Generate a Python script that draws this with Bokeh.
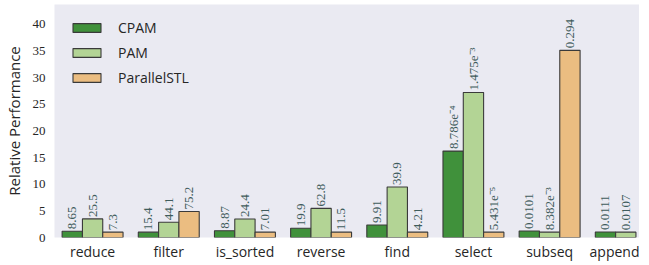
import math
from bokeh.plotting import figure
from bokeh.models import ColumnDataSource, Range1d, FixedTicker, Legend, LegendItem
from bokeh.transform import dodge
from bokeh.core.properties import value
from bokeh.embed import file_html
from bokeh.resources import INLINE

categories = ["reduce", "filter", "is_sorted", "reverse", "find", "select", "subseq", "append"]
series = ["CPAM", "PAM", "ParallelSTL"]
cpam = [1.18, 1.0, 1.27, 1.73, 2.35, 16.2, 1.21, 1.04]
pam = [3.49, 2.86, 3.48, 5.46, 9.48, 27.2, 1.0, 1.0]
pstl = [1.0, 4.88, 1.0, 1.0, 1.0, 1.0, 35.1, float("nan")]
cpam_labels = ["8.65", "15.4", "8.87", "19.9", "9.91", "8.786e\u207b\u2074", "0.0101", "0.0111"]
pam_labels = ["25.5", "44.1", "24.4", "62.8", "39.9", "1.475e\u207b\u00b3", "8.382e\u207b\u00b3", "0.0107"]
pstl_labels = ["7.3", "75.2", "7.01", "11.5", "4.21", "5.431e\u207b\u2075", "0.294", ""]
y_ticks = [0, 5, 10, 15, 20, 25, 30, 35, 40]

colors = ["#40913b", "#b3d495", "#ebbd81"]
bw = 0.8 / 3
offsets = [-bw, 0.0, bw]

xs = list(range(len(categories)))
src = ColumnDataSource(dict(
    x=xs, cpam=cpam, pam=pam, pstl=pstl,
    cpam_l=cpam_labels, pam_l=pam_labels, pstl_l=pstl_labels,
))

p = figure(frame_width=585, frame_height=233, output_backend="svg", toolbar_location=None,
           x_range=Range1d(-0.5, 7.18), y_range=Range1d(0, 43.7),
           min_border_left=48, min_border_right=0, min_border_top=4, min_border_bottom=0)
p.background_fill_color = "#EAEAF2"
p.border_fill_color = "white"
p.outline_line_color = None
p.grid.visible = False

renderers = []
for key, off, col in zip(["cpam", "pam", "pstl"], offsets, colors):
    r = p.vbar(x=dodge("x", off), top=key, width=bw, bottom=0, source=src,
               fill_color=col, line_color="#3a3a3a", line_width=1.1)
    renderers.append(r)
    p.text(x=dodge("x", off), y=key, text=key + "_l", source=src,
           angle=math.pi / 2, text_align="left", text_baseline="middle",
           y_offset=-2, text_font=value("Liberation Serif"), text_font_size="13px",
           text_color="#3f5c5c")

legend = Legend(items=[LegendItem(label=s, renderers=[r]) for s, r in zip(series, renderers)],
                location=(15, 150), margin=0, padding=0, spacing=5,
                glyph_width=35, glyph_height=11, label_height=20, label_standoff=14,
                label_text_font="Open Sans", label_text_font_size="14px",
                label_text_color="#262626",
                background_fill_alpha=0, border_line_color=None)
p.add_layout(legend)

p.yaxis.ticker = FixedTicker(ticks=y_ticks)
p.yaxis.major_label_text_font = "Liberation Serif"
p.yaxis.major_label_text_font_size = "13px"
p.yaxis.major_label_text_color = "#262626"
p.yaxis.major_label_standoff = 9
p.yaxis.axis_label = "Relative Performance"
p.yaxis.axis_label_text_font = "Open Sans"
p.yaxis.axis_label_text_font_style = "normal"
p.yaxis.axis_label_text_font_size = "15px"
p.yaxis.axis_label_text_color = "#262626"
p.yaxis.axis_label_standoff = 6

p.xaxis.ticker = FixedTicker(ticks=xs)
p.xaxis.major_label_overrides = {i: c for i, c in enumerate(categories)}
p.xaxis.major_label_text_font = "Open Sans"
p.xaxis.major_label_text_font_size = "14px"
p.xaxis.major_label_text_color = "#262626"
p.xaxis.major_label_standoff = 4
p.xaxis.axis_label_standoff = 0

for ax in (p.xaxis, p.yaxis):
    ax.axis_line_color = None
    ax.major_tick_line_color = None
    ax.minor_tick_line_color = None
    ax.major_tick_out = 0
    ax.major_tick_in = 0
    ax.minor_tick_out = 0
    ax.minor_tick_in = 0

open("out.html", "w").write(file_html(p, INLINE))
